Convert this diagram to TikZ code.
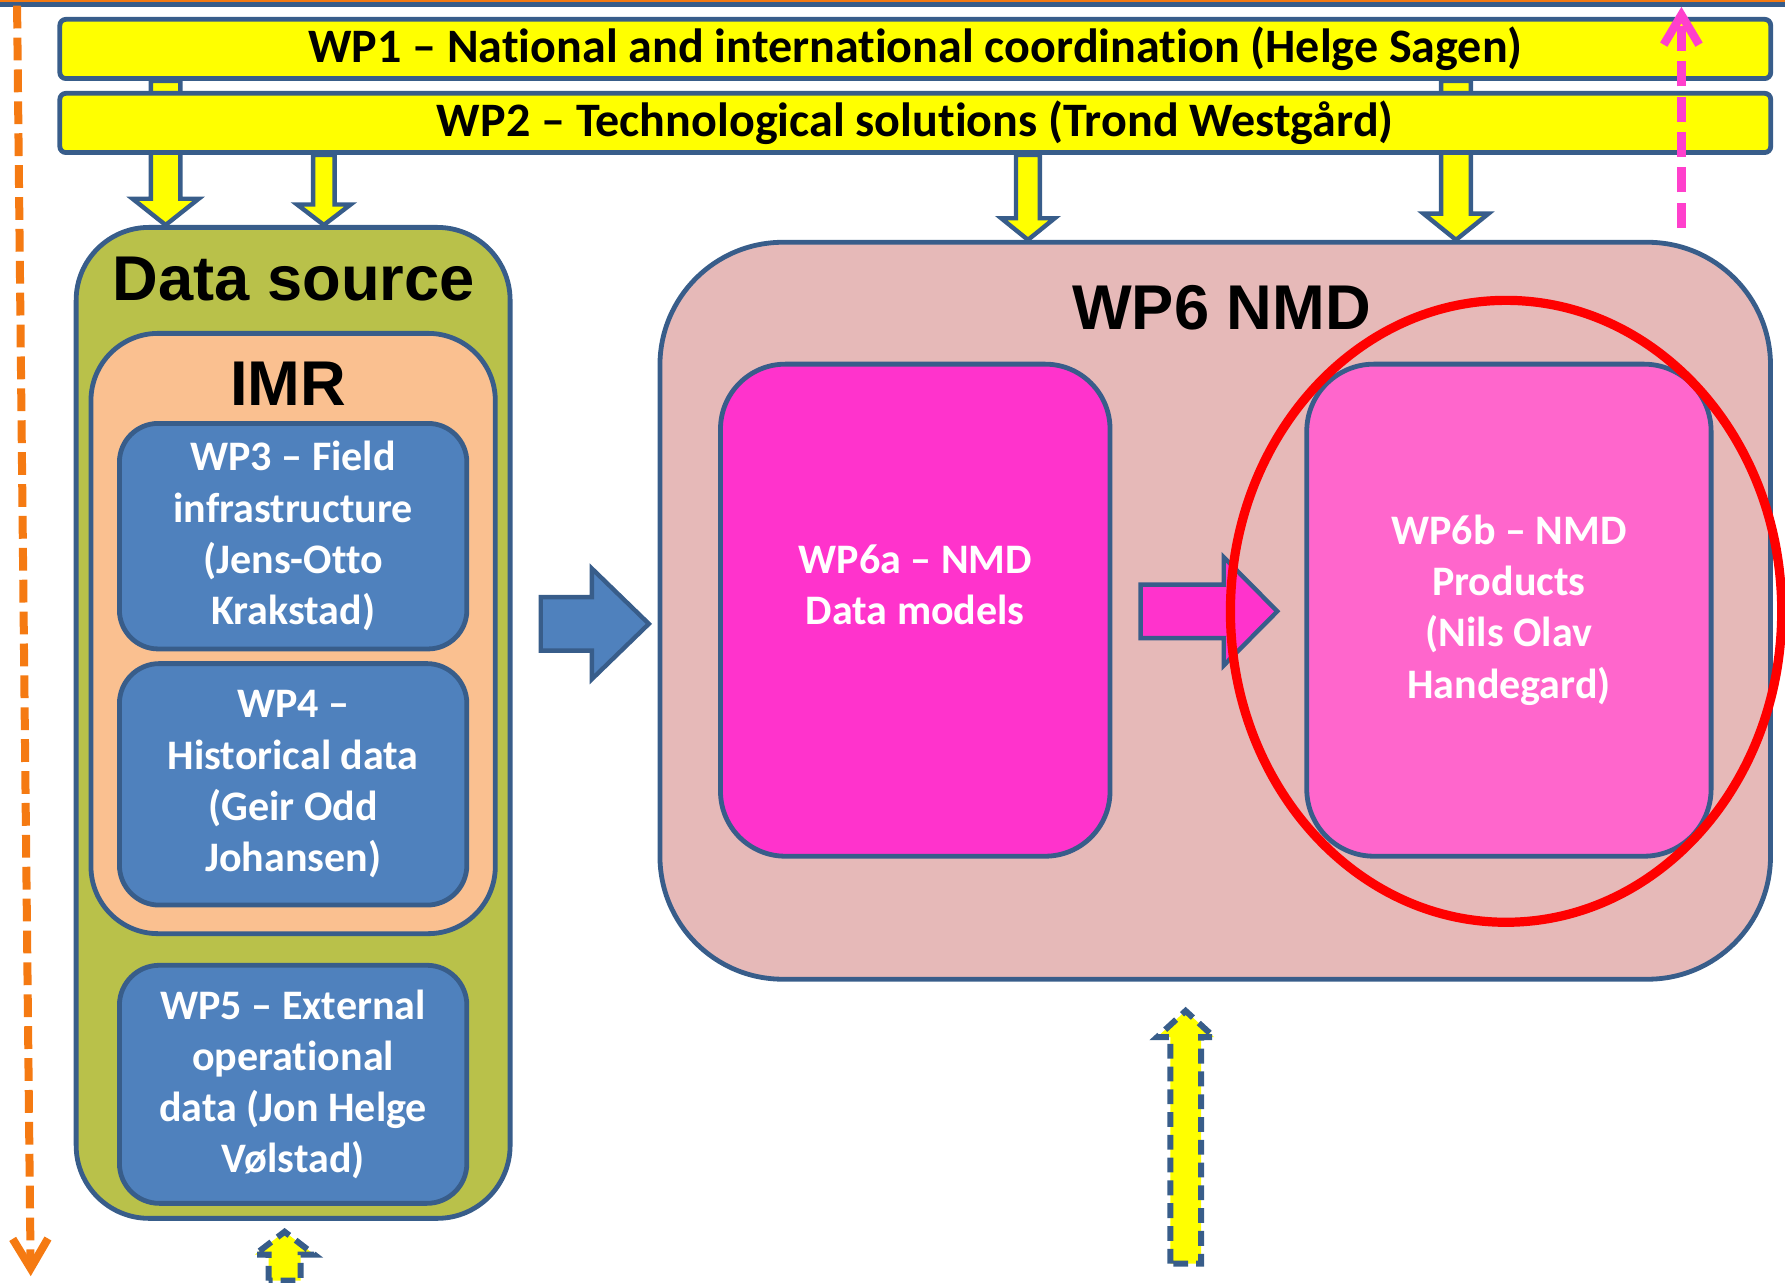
\documentclass[tikz,border=0pt]{standalone}
\usepackage{fontspec}
\setmainfont{Carlito}[Ligatures={TeX,NoCommon}]
\newfontfamily\headfont{Liberation Sans}
\usetikzlibrary{calc,shapes.geometric,arrows.meta}
\definecolor{wpedge}{RGB}{56,93,138}
\definecolor{wpyellow}{RGB}{255,255,0}
\definecolor{dsgreen}{RGB}{185,193,74}
\definecolor{imrpeach}{RGB}{250,192,144}
\definecolor{wpblue}{RGB}{79,129,189}
\definecolor{nmdrose}{RGB}{230,185,184}
\definecolor{nmdmagenta}{RGB}{255,51,204}
\definecolor{nmdpink}{RGB}{255,102,204}
\definecolor{leadorange}{RGB}{245,122,18}
\definecolor{backpink}{RGB}{255,64,204}
\tikzset{
    %Define standard arrow tip
    >={Straight Barb[length=2.6mm,width=3.1mm]},
    %Define style for the yellow work package bars
    wpbar/.style={rectangle, draw=wpedge, line width=1.2pt, fill=wpyellow, rounded corners=1.5pt, inner ysep=0pt, minimum width=15.02cm, minimum height=0.52cm, font=\bfseries\fontsize{12}{14}\selectfont},
    %Define style for grouping boxes
    group/.style={rectangle, draw=wpedge, line width=1.2pt},
    %Define style for work package boxes
    wpbox/.style={rectangle, draw=wpedge, line width=1.2pt, text=white, align=center, font=\bfseries\fontsize{10.5}{12.8}\selectfont},
    heading/.style={font=\headfont\bfseries\fontsize{15.8}{18}\selectfont},
    %Define style for block arrows: half shaft/half head/head length
    blockarrow/.style args={#1/#2/#3}{draw=wpedge, line width=1.1pt, line join=miter, to path={
        ($(\tikztotarget)!#3!(\tikztostart)$) coordinate (headbase)
        ($(\tikztostart)!#1!90:(\tikztotarget)$) -- ($(headbase)!#1!90:(\tikztotarget)$)
        -- ($(headbase)!#2!90:(\tikztotarget)$) -- (\tikztotarget)
        -- ($(headbase)!#2!-90:(\tikztotarget)$) -- ($(headbase)!#1!-90:(\tikztotarget)$)
        -- ($(\tikztostart)!#1!-90:(\tikztotarget)$) -- cycle}},
    dashedge/.style={line width=1.5pt, dash pattern=on 0.13cm off 0.07cm},
}
\begin{document}
\begin{tikzpicture}[x=0.01cm, y=-0.01cm]
    \useasboundingbox (0,0) rectangle (1568,1127);
    \draw[leadorange, line width=0.6pt] (0,0.6) -- (1568,0.6);
    \draw[wpedge, line width=1.1pt] (0,4) -- (1568,4);

    \node[wpbar](wp1) at (804,43) {WP1 -- National and international coordination (Helge Sagen)};

    \node[group, fill=dsgreen, minimum width=3.81cm, minimum height=8.7cm, rounded corners=0.64cm](ds) at (257.5,635) {};
    \node[heading](dstitle) at (258,245) {Data source};
    \node[group, fill=imrpeach, minimum width=3.55cm, minimum height=5.27cm, rounded corners=0.59cm](imr) at (257.5,556.5) {};
    \node[heading](imrtitle) at (253,337) {IMR};
    \node[wpbox, fill=wpblue, minimum width=3.05cm, minimum height=1.98cm, rounded corners=0.34cm](wp3) at (257.5,471) {WP3 -- Field\\infrastructure\\(Jens-Otto\\Krakstad)};
    \node[wpbox, fill=wpblue, minimum width=3.05cm, minimum height=2.12cm, rounded corners=0.35cm](wp4) at (257.5,689) {WP4 --\\Historical data\\(Geir Odd\\Johansen)};
    \node[wpbox, fill=wpblue, minimum width=3.05cm, minimum height=2.09cm, rounded corners=0.35cm](wp5) at (257.5,952.5) {WP5 -- External\\operational\\data (Jon Helge\\Vølstad)};

    \node[group, fill=nmdrose, minimum width=9.75cm, minimum height=6.47cm, rounded corners=1.08cm](wp6) at (1067.5,536.5) {};
    \node[heading](nmdtitle) at (1073,270) {WP6 NMD};
    \node[wpbox, fill=nmdmagenta, minimum width=3.42cm, minimum height=4.32cm, rounded corners=0.57cm](wp6a) at (804,536) {WP6a -- NMD\\Data models\\\mbox{}};
    \node[wpbox, fill=nmdpink, minimum width=3.55cm, minimum height=4.32cm, rounded corners=0.59cm](wp6b) at (1325.5,536) {WP6b -- NMD\\Products\\(Nils Olav\\Handegard)};

    \coordinate (col1) at (145.5,0);
    \coordinate (col2) at (284.5,0);
    \coordinate (col3) at (903,0);
    \coordinate (col4) at (1279,0);
    \draw[blockarrow=0.13cm/0.29cm/0.23cm, fill=wpyellow] (wp1.south -| col1) to (ds.north -| col1);
    \draw[blockarrow=0.13cm/0.285cm/0.23cm, fill=wpyellow] (wp1.south -| col4) to (wp6.north -| col4);

    \node[wpbar](wp2) at (804,108) {WP2 -- Technological solutions (Trond Westgård)};
    \draw[blockarrow=0.095cm/0.235cm/0.18cm, fill=wpyellow] (wp2.south -| col2) to (ds.north -| col2);
    \draw[blockarrow=0.105cm/0.235cm/0.19cm, fill=wpyellow] (wp2.south -| col3) to (wp6.north -| col3);

    \coordinate (flowin) at (475,548);
    \coordinate (flowout) at (570,548);
    \draw[blockarrow=0.235cm/0.485cm/0.5cm, fill=wpblue] (flowin) to (flowout);
    \coordinate (prodin) at (1002,537);
    \coordinate (prodout) at (1122,537);
    \draw[blockarrow=0.235cm/0.475cm/0.47cm, fill=nmdmagenta] (prodin) to (prodout);

    \node[ellipse, draw=red, line width=2.3pt, minimum width=4.84cm, minimum height=5.46cm, inner sep=0pt](focus) at (1323,537) {};

    \coordinate (feedlow) at (1041.5,1110);
    \coordinate (feedhigh) at (1041.5,888);
    \draw[blockarrow=0.135cm/0.25cm/0.23cm, fill=wpyellow, dashedge] (feedlow) to (feedhigh);
    \coordinate (srclow) at (250,1125);
    \coordinate (srchigh) at (250,1082);
    \draw[blockarrow=0.14cm/0.26cm/0.2cm, fill=wpyellow, dashedge] (srclow) to (srchigh);

    \coordinate (leadtop) at (15,5);
    \coordinate (leadend) at (27,1121);
    \draw[->, leadorange, line width=2pt, dash pattern=on 0.2cm off 0.08cm] (leadtop) -- (leadend);
    \coordinate (backlow) at (1477,200);
    \coordinate (backhigh) at (1477,6);
    \draw[->, backpink, line width=2.1pt, dash pattern=on 0.22cm off 0.09cm] (backlow) -- (backhigh);
\end{tikzpicture}
\end{document}
